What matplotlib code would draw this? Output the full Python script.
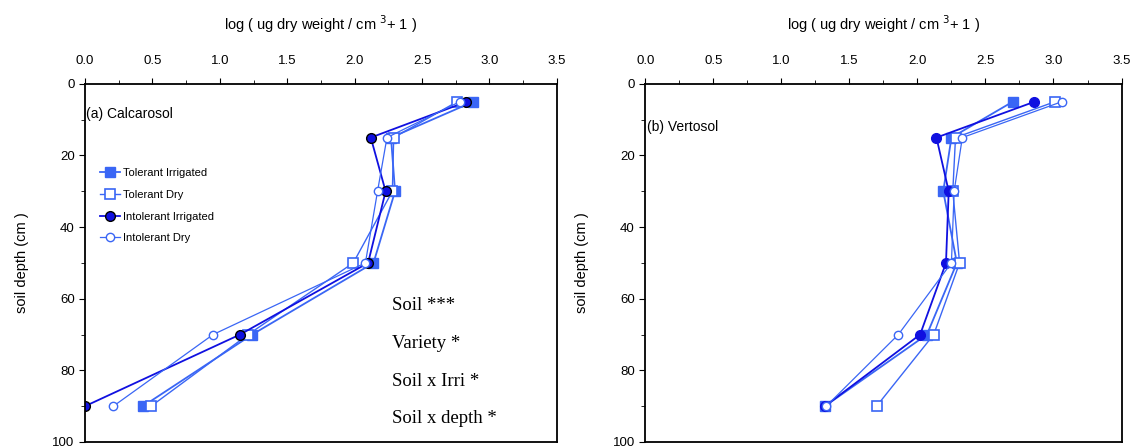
import matplotlib.pyplot as plt
from matplotlib.ticker import MultipleLocator

# soil depth (cm) of each sample
depth = [5, 15, 30, 50, 70, 90]

# (a) Calcarosol, log(ug dry weight / cm3 + 1)
calc_tol_irr = [2.88, 2.27, 2.30, 2.14, 1.24, 0.43]
calc_tol_dry = [2.76, 2.29, 2.28, 1.99, 1.21, 0.49]
calc_int_irr = [2.83, 2.12, 2.23, 2.10, 1.15, 0.0]
calc_int_dry = [2.78, 2.24, 2.17, 2.08, 0.95, 0.21]

# (b) Vertosol
vert_tol_irr = [2.70, 2.25, 2.19, 2.29, 2.07, 1.32]
vert_tol_dry = [3.01, 2.28, 2.26, 2.31, 2.12, 1.70]
vert_int_irr = [2.86, 2.14, 2.23, 2.21, 2.02, 1.32]
vert_int_dry = [3.06, 2.33, 2.27, 2.25, 1.86, 1.33]

labels = ["Tolerant Irrigated", "Tolerant Dry", "Intolerant Irrigated", "Intolerant Dry"]
stats = ["Soil ***", "Variety *", "Soil x Irri *", "Soil x depth *"]

plt.rcParams['font.family'] = ['Liberation Sans', 'DejaVu Sans']

fig = plt.figure(figsize=(11.34, 4.46), dpi=100)
ax1 = fig.add_axes([0.075, 0.009, 0.416, 0.803])
ax2 = fig.add_axes([0.569, 0.009, 0.420, 0.803])

blue = '#3a66f5'
dark = '#1010e0'


def draw(ax, ti, td, ii, idr, dark_edge):
    ax.plot(ti, depth, '-s', color=blue, lw=1.3, ms=7, mfc=blue, mec=blue, label=labels[0])
    ax.plot(td, depth, '-s', color=blue, lw=1.0, ms=7, mfc='white', mec=blue, mew=1.2, label=labels[1])
    ax.plot(ii, depth, '-o', color=dark, lw=1.3, ms=7, mfc=dark,
            mec='black' if dark_edge else dark, label=labels[2])
    ax.plot(idr, depth, '-o', color=blue, lw=0.9, ms=6, mfc='white', mec=blue, mew=1.0, label=labels[3])
    ax.set_xlim(0, 3.5)
    ax.set_ylim(100, 0)
    ax.xaxis.tick_top()
    ax.xaxis.set_label_position('top')
    ax.xaxis.set_major_locator(MultipleLocator(0.5))
    ax.xaxis.set_minor_locator(MultipleLocator(0.25))
    ax.yaxis.set_major_locator(MultipleLocator(20))
    ax.yaxis.set_minor_locator(MultipleLocator(10))
    ax.xaxis.set_major_formatter(plt.FormatStrFormatter('%.1f'))
    ax.tick_params(which='both', direction='out', labelsize=9.5)
    ax.tick_params(which='major', length=4)
    ax.tick_params(which='minor', length=3)
    ax.tick_params(axis='x', pad=8)
    for s in ax.spines.values():
        s.set_linewidth(1.3)
    ax.set_xlabel('log ( ug dry weight / cm $^{3}$+ 1 )', fontsize=10.5, labelpad=18)
    ax.set_ylabel('soil depth (cm )', fontsize=10.5, labelpad=17)


draw(ax1, calc_tol_irr, calc_tol_dry, calc_int_irr, calc_int_dry, True)
draw(ax2, vert_tol_irr, vert_tol_dry, vert_int_irr, vert_int_dry, False)

ax1.text(0.01, 8.5, '(a) Calcarosol', fontsize=10, va='center')
ax2.text(0.01, 12, '(b) Vertosol', fontsize=10, va='center')

ax1.legend(loc='upper left', bbox_to_anchor=(0.02, 0.78), frameon=False, fontsize=8,
           handlelength=1.8, handletextpad=0.3, labelspacing=1.05, borderpad=0)

for i, s in enumerate(stats):
    ax1.text(2.28, 62 + i * 10.5, s, fontsize=13.5, family='Liberation Serif', va='center')

fig.savefig('out.png', dpi=100)
